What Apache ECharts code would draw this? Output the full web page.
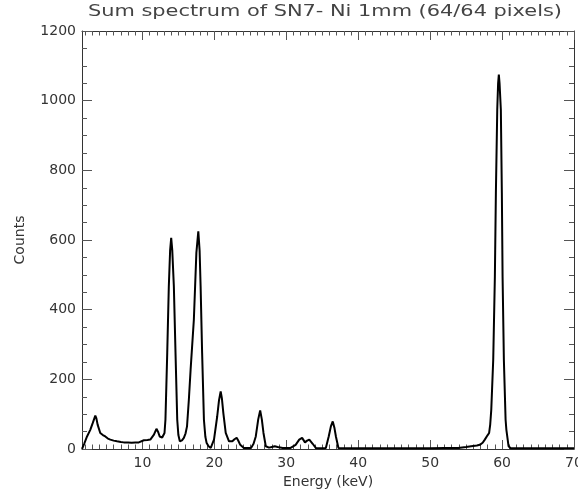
<!DOCTYPE html>
<html>
<head>
<meta charset="utf-8">
<script src="https://cdn.jsdelivr.net/npm/echarts@6/dist/echarts.min.js"></script>
<style>html,body{margin:0;padding:0;background:#fff;}#c{width:578px;height:492px;}</style>
</head>
<body>
<div id="c"></div>
<script>
const titleText = "Sum spectrum of SN7- Ni 1mm (64/64 pixels)";
const xName = "Energy (keV)";
const yName = "Counts";
const xMajorTicks = [10, 20, 30, 40, 50, 60, 70];
const xMinorTicks = [2,3,4,5,6,7,8,9,11,12,13,14,15,16,17,18,19,21,22,23,24,25,26,27,28,29,31,32,33,34,35,36,37,38,39,41,42,43,44,45,46,47,48,49,51,52,53,54,55,56,57,58,59,61,62,63,64,65,66,67,68,69];
const energy = [1.6,1.9,2.3,2.75,3.1,3.45,3.6,3.77,4.14,4.5,4.84,5.2,5.54,6.0,6.47,7.0,7.4,8.0,8.5,9.0,9.5,10.2,10.7,11.1,11.6,11.95,12.2,12.4,12.75,13.07,13.2,13.45,13.67,13.85,14.0,14.15,14.37,14.6,14.84,15.0,15.2,15.5,15.76,16.0,16.2,16.45,16.7,17.15,17.5,17.77,17.95,18.09,18.3,18.55,18.75,18.93,19.2,19.5,19.95,20.4,20.65,20.88,21.05,21.25,21.58,22.04,22.5,22.8,23.1,23.3,23.6,24.1,24.5,25.1,25.45,25.76,26.1,26.37,26.6,26.83,27.15,27.6,28.0,28.4,28.8,29.5,30.6,31.3,31.8,32.2,32.6,32.9,33.2,33.67,34.1,35.0,35.5,35.9,36.2,36.46,36.7,36.9,37.25,40,45,50,52,53.9,55,55.7,56.5,56.9,57.3,57.6,58.0,58.2,58.35,58.5,58.77,59.0,59.14,59.33,59.45,59.55,59.65,59.83,59.97,60.07,60.25,60.49,60.6,60.9,61.2,65,70];
const counts = [0,15,36,55,75,96,88,70,46,40,36,30,27,24,22,20,19,19,18,19,19,25,26,27,41,58,48,36,33,46,84,276,467,570,606,570,467,276,84,40,22,25,32,45,65,140,228,371,563,625,570,467,276,84,35,17,8,3,27,94,140,165,145,103,46,22,22,28,32,25,12,3,3,3,15,36,85,111,85,46,8,4,6,8,6,3,3,12,27,32,19,24,27,15,3,2,3,36,65,79,60,36,3,2,2,2,3,3,6,8,10,12,18,27,40,46,70,113,256,496,735,974,1050,1075,1050,974,735,496,256,84,55,8,2,2,2];

const chart = echarts.init(document.getElementById('c'), null, {renderer: 'canvas'});
const font = 'DejaVu Sans';
const txt = '#333';
const lineC = '#333';
const tickC = '#555';
const gridRect = {left: 82, right: 4, top: 31, bottom: 43, containLabel: false, outerBoundsMode: 'none'};
function xAx(gridIndex, position, ticks, len, extra) {
  return Object.assign({
    type: 'value', gridIndex: gridIndex, position: position, min: 1.6, max: 70,
    splitLine: {show: false},
    axisLine: {show: gridIndex === 0, onZero: false, lineStyle: {color: lineC, width: 1}},
    axisTick: {show: true, inside: true, length: len, customValues: ticks, lineStyle: {color: tickC}},
    axisLabel: {show: false}
  }, extra || {});
}
function yAx(gridIndex, position, show, extra) {
  return Object.assign({
    type: 'value', gridIndex: gridIndex, position: position, min: 0, max: 1200, interval: 200,
    splitLine: {show: false},
    axisLine: {show: show, onZero: false, lineStyle: {color: lineC, width: 1}},
    axisTick: {show: show, inside: true, length: 10, lineStyle: {color: tickC}},
    minorTick: {show: show, splitNumber: 4, length: 5, lineStyle: {color: tickC}},
    axisLabel: {show: false}
  }, extra || {});
}
// stretch the title horizontally like the reference's wide vector font
const titleFontSize = 16;
const cv = document.createElement('canvas').getContext('2d');
cv.font = titleFontSize + 'px "' + font + '"';
const titleW = cv.measureText(titleText).width || 360;
const titleScale = 474 / titleW;

const option = {
  animation: false,
  backgroundColor: '#fff',
  graphic: [{
    type: 'text', x: 88, y: 4, scaleX: titleScale, scaleY: 1,
    style: {
      text: titleText, fontFamily: font, fontSize: titleFontSize,
      fill: '#444', textVerticalAlign: 'top', textAlign: 'left'
    }
  }],
  grid: [Object.assign({}, gridRect), Object.assign({}, gridRect)],
  xAxis: [
    xAx(0, 'bottom', xMajorTicks, 9, {
      axisLabel: {show: true, customValues: xMajorTicks, margin: 7, fontFamily: font, fontSize: 14, color: txt},
      name: xName, nameLocation: 'middle', nameGap: 21,
      nameTextStyle: {fontFamily: font, fontSize: 14, color: txt}
    }),
    xAx(0, 'top', xMajorTicks, 9),
    xAx(1, 'bottom', xMinorTicks, 4.5),
    xAx(1, 'top', xMinorTicks, 4.5)
  ],
  yAxis: [
    yAx(0, 'left', true, {
      axisLabel: {show: true, margin: 6, fontFamily: font, fontSize: 14, color: txt, formatter: v => String(v)},
      name: yName, nameLocation: 'middle', nameGap: 55, nameRotate: 90,
      nameTextStyle: {fontFamily: font, fontSize: 14, color: txt}
    }),
    yAx(0, 'right', true),
    yAx(1, 'left', false),
    yAx(1, 'right', false)
  ],
  series: [{
    type: 'line',
    xAxisIndex: 0, yAxisIndex: 0,
    data: energy.map((e, i) => [e, counts[i]]),
    showSymbol: false, symbol: 'none',
    lineStyle: {color: '#000', width: 2},
    clip: true
  }]
};
chart.setOption(option);
</script>
</body>
</html>
